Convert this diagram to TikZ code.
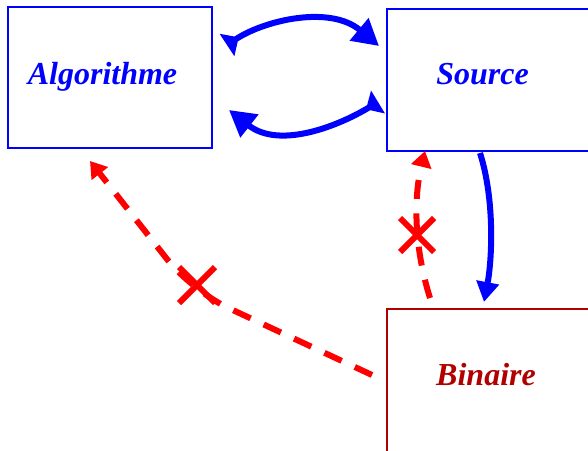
\documentclass[tikz,border=0pt]{standalone}
\usepackage{fontspec}
\setmainfont{Liberation Serif}
\usetikzlibrary{arrows.meta}
\definecolor{myblue}{RGB}{0,0,255}
\definecolor{myred}{RGB}{255,0,0}
\definecolor{mydark}{RGB}{176,0,0}
\begin{document}
\begin{tikzpicture}[x=1pt,y=-1pt,
  box/.style={draw, line width=2pt, minimum width=204pt, minimum height=141pt, inner sep=0pt, anchor=north west},
  lbl/.style={font=\fontsize{32}{38}\selectfont\bfseries\itshape, anchor=base, inner sep=0pt},
  bluearrow/.style={draw=myblue, line width=6pt, {Triangle[reversed,length=14pt,width=26pt]}-{Triangle[length=26pt,width=28pt]}},
  bluedown/.style={draw=myblue, line width=6pt, -{Triangle[length=20pt,width=22pt]}},
  reddash/.style={draw=myred, line width=6pt, dash pattern=on 19pt off 14.5pt, -{Triangle[length=16pt,width=20pt]}},
  cross/.style={draw=myred, line width=6pt}
]
\useasboundingbox (0,0) rectangle (588,450);
\clip (0,0) rectangle (588,450);
\node[box, draw=myblue] (alg) at (7,6) {};
\node[box, draw=myblue, minimum height=142pt] (src) at (386,8) {};
\node[box, draw=mydark, minimum height=160pt] (bin) at (386,308) {};
\node[lbl, text=myblue] (algt) at (102.5,84) {Algorithme};
\node[lbl, text=myblue] (srct) at (482.5,84) {Source};
\node[lbl, text=mydark] (bint) at (486,385) {Binaire};
\coordinate (a1) at (227,45);
\coordinate (a2) at (379,46);
\coordinate (b1) at (378,102);
\coordinate (b2) at (229,110);
\coordinate (c1) at (480,153);
\coordinate (c2) at (484,302);
\coordinate (d1) at (372,375);
\coordinate (dk) at (192,291);
\coordinate (d2) at (90,161);
\coordinate (e1) at (430,298);
\coordinate (e2) at (425,151);
\draw[bluearrow] (a1) .. controls (265,20) and (330,5) .. (a2);
\draw[bluearrow] (b1) .. controls (340,125) and (280,150) .. (b2);
\draw[bluedown] (c1) .. controls (495,200) and (492,260) .. (c2);
\draw[reddash, rounded corners=40pt] (d1) -- (dk) -- (d2);
\draw[reddash] (e1) .. controls (414.7,249.3) and (413,200.3) .. (e2);
\coordinate (x1) at (197,285);
\coordinate (x2) at (417,235);
\draw[cross] ([shift={(-18,-18)}]x1) -- ([shift={(18,18)}]x1);
\draw[cross] ([shift={(-18,18)}]x1) -- ([shift={(18,-18)}]x1);
\draw[cross] ([shift={(-17,-17)}]x2) -- ([shift={(17,17)}]x2);
\draw[cross] ([shift={(-17,17)}]x2) -- ([shift={(17,-17)}]x2);
\end{tikzpicture}
\end{document}
